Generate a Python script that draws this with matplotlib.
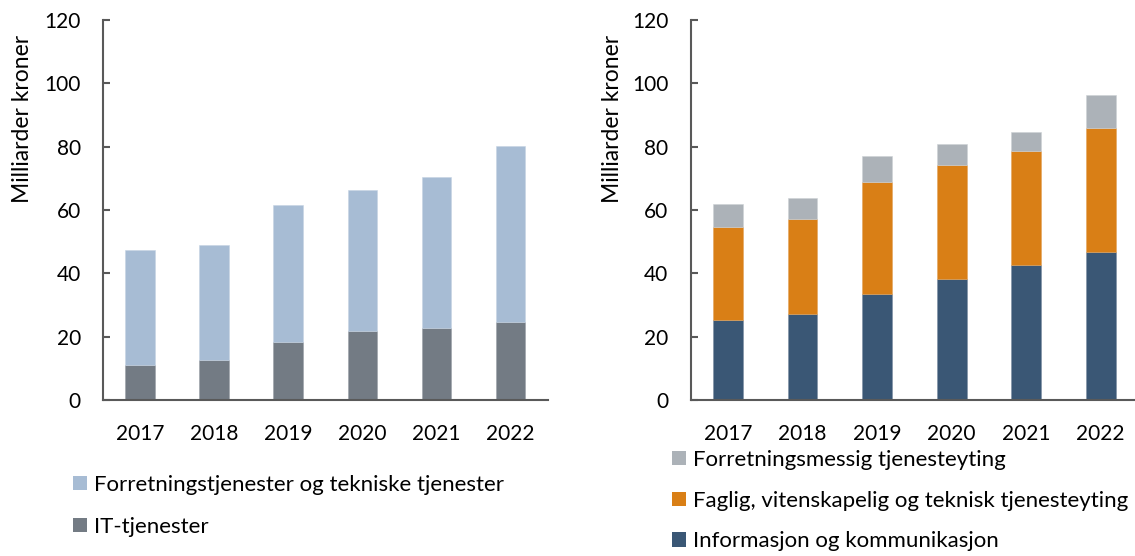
import matplotlib
matplotlib.use("Agg")
import matplotlib.pyplot as plt
from matplotlib.patches import Patch
import numpy as np

years = ["2017", "2018", "2019", "2020", "2021", "2022"]

# Left panel
it_tjenester = [11.2, 12.7, 18.4, 21.9, 22.8, 24.7]
forr_tekn_total = [47.4, 48.9, 61.6, 66.3, 70.3, 80.2]
forr_tekn = [t - b for t, b in zip(forr_tekn_total, it_tjenester)]

# Right panel
info_komm = [25.3, 27.1, 33.5, 38.2, 42.7, 46.8]
faglig_top = [54.6, 57.2, 68.7, 74.2, 78.6, 85.8]
total_right = [62.0, 63.8, 76.9, 80.7, 84.6, 96.2]
faglig = [t - b for t, b in zip(faglig_top, info_komm)]
forr_messig = [t - b for t, b in zip(total_right, faglig_top)]

left_labels = ["Forretningstjenester og tekniske tjenester", "IT-tjenester"]
right_labels = ["Forretningsmessig tjenesteyting",
                "Faglig, vitenskapelig og teknisk tjenesteyting",
                "Informasjon og kommunikasjon"]
ylabel = "Milliarder kroner"

c_light = "#A7BCD4"
c_dgrey = "#737B84"
c_navy = "#3A5775"
c_orange = "#D97F16"
c_grey = "#ACB2B8"
axis_col = "#595959"

plt.rcParams["font.family"] = ["Lato", "DejaVu Sans"]
fs_tick = 15
fs_leg = 16
fs_lab = 16.5

fig = plt.figure(figsize=(11.35, 5.56), dpi=100)
W, H = 1135, 556
axL = fig.add_axes([103 / W, 1 - 400 / H, 444.7 / W, 380 / H])
axR = fig.add_axes([690.7 / W, 1 - 400 / H, 447.3 / W, 380 / H])

x = np.arange(len(years))
bw = 0.4

axL.bar(x, it_tjenester, bw, color=c_dgrey, edgecolor="#9AA0A7", linewidth=0.4)
axL.bar(x, forr_tekn, bw, bottom=it_tjenester, color=c_light, edgecolor="#C7D4E3", linewidth=0.4)

axR.bar(x, info_komm, bw, color=c_navy, edgecolor="#7C8FA3", linewidth=0.4)
axR.bar(x, faglig, bw, bottom=info_komm, color=c_orange, edgecolor="#E3A45C", linewidth=0.4)
axR.bar(x, forr_messig, bw, bottom=faglig_top, color=c_grey, edgecolor="#CDD1D5", linewidth=0.4)

for ax in (axL, axR):
    ax.set_ylim(0, 120)
    ax.set_yticks(range(0, 121, 20))
    ax.set_xticks(x)
    ax.set_xticklabels(years)
    ax.spines["top"].set_visible(False)
    ax.spines["right"].set_visible(False)
    for s in ("left", "bottom"):
        ax.spines[s].set_color(axis_col)
        ax.spines[s].set_linewidth(1.5)
    ax.tick_params(axis="y", direction="in", length=5, width=1.5, color=axis_col,
                   labelsize=fs_tick, pad=16, labelcolor="black")
    ax.tick_params(axis="x", length=0, labelsize=fs_tick, pad=17, labelcolor="black")
    ax.set_ylabel(ylabel, fontsize=fs_lab, color="black")
    ax.set_facecolor("white")

axL.set_xlim(-0.5, 5.5)
axR.set_xlim(-0.5, 5.5)
axL.yaxis.set_label_coords(-0.157, 0.74)
axR.yaxis.set_label_coords(-0.151, 0.74)

hL = [Patch(facecolor=c_light), Patch(facecolor=c_dgrey)]
fig.legend(hL, left_labels, loc="upper left", bbox_to_anchor=(73 / W, 1 - 475 / H),
           frameon=False, fontsize=fs_leg, handlelength=0.63, handleheight=0.63,
           handletextpad=0.3, labelspacing=0.98, borderaxespad=0, borderpad=0)

hR = [Patch(facecolor=c_grey), Patch(facecolor=c_orange), Patch(facecolor=c_navy)]
fig.legend(hR, right_labels, loc="upper left", bbox_to_anchor=(672 / W, 1 - 450 / H),
           frameon=False, fontsize=fs_leg, handlelength=0.63, handleheight=0.63,
           handletextpad=0.3, labelspacing=0.93, borderaxespad=0, borderpad=0)

fig.savefig("out.png", dpi=100, facecolor="white")
